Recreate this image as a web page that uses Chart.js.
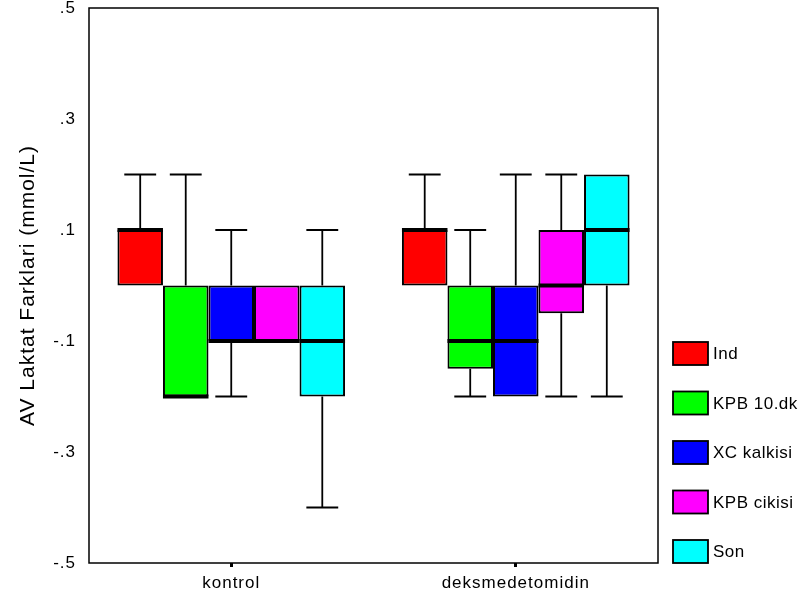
<!DOCTYPE html>
<html>
<head>
<meta charset="utf-8">
<script src="https://cdn.jsdelivr.net/npm/chart.js@4"></script>
<style>
  html, body { margin: 0; padding: 0; background: #fff; }
  #wrap { width: 807px; height: 604px; }
</style>
</head>
<body>
<div id="wrap"><canvas id="boxChart" width="807" height="604"></canvas></div>
<script>
// Groups on the x axis
const groups = ['kontrol', 'deksmedetomidin'];

// Series (time points) and their colours
const seriesNames = ['Ind', 'KPB 10.dk', 'XC kalkisi', 'KPB cikisi', 'Son'];
const seriesColors = ['#ff0000', '#00ff00', '#0000ff', '#ff00ff', '#00ffff'];

// Box plot values per series: [kontrol, deksmedetomidin]
const whiskerLow = [[0, 0], [-0.2, -0.2], [-0.2, -0.2], [-0.1, -0.2], [-0.4, -0.2]];
const quartile1 = [[0, 0], [-0.2, -0.15], [-0.1, -0.2], [-0.1, -0.05], [-0.2, 0]];
const medians = [[0.1, 0.1], [-0.2, -0.1], [-0.1, -0.1], [-0.1, 0], [-0.1, 0.1]];
const quartile3 = [[0.1, 0.1], [0, 0], [0, 0], [0, 0.1], [0, 0.2]];
const whiskerHigh = [[0.2, 0.2], [0.2, 0.1], [0.1, 0.2], [0, 0.2], [0.1, 0.2]];

// Y axis range and step
const yMin = -0.5;
const yMax = 0.5;
const yStep = 0.2;

const FONT = 'Arial, "Liberation Sans", sans-serif';

// SPSS style text is a bit spaced out
function setSpacing(chart) {
    chart.ctx.letterSpacing = '1px';
}

// Whiskers behind the boxes, medians on top
const boxExtras = {
    id: 'boxExtras',
    beforeUpdate: setSpacing,
    beforeDraw: setSpacing,
    beforeDatasetsDraw(chart) {
        const ctx = chart.ctx;
        const y = chart.scales.y;
        ctx.save();
        ctx.strokeStyle = '#000';
        ctx.lineWidth = 1.8;
        chart.data.datasets.forEach((ds, si) => {
            const meta = chart.getDatasetMeta(si);
            meta.data.forEach((bar, gi) => {
                const cap = bar.width * 0.35;
                const parts = [
                    [quartile3[si][gi], whiskerHigh[si][gi]],
                    [quartile1[si][gi], whiskerLow[si][gi]]
                ];
                parts.forEach(([edge, end]) => {
                    if (edge === end) return;
                    const y0 = y.getPixelForValue(edge);
                    const y1 = y.getPixelForValue(end);
                    ctx.beginPath();
                    ctx.moveTo(bar.x, y0);
                    ctx.lineTo(bar.x, y1);
                    ctx.moveTo(bar.x - cap, y1);
                    ctx.lineTo(bar.x + cap, y1);
                    ctx.stroke();
                });
            });
        });
        ctx.restore();
    },
    afterDatasetsDraw(chart) {
        const ctx = chart.ctx;
        const y = chart.scales.y;
        ctx.save();
        ctx.fillStyle = '#000';
        chart.data.datasets.forEach((ds, si) => {
            const meta = chart.getDatasetMeta(si);
            meta.data.forEach((bar, gi) => {
                const my = y.getPixelForValue(medians[si][gi]);
                ctx.fillRect(bar.x - bar.width / 2, my - 2, bar.width, 4);
            });
        });
        // frame around the plot
        const a = chart.chartArea;
        ctx.strokeStyle = '#000';
        ctx.lineWidth = 1.5;
        ctx.strokeRect(a.left, a.top, a.right - a.left, a.bottom - a.top);
        ctx.restore();
    },
    afterDraw(chart) {
        // legend at the lower right, stacked upwards from the plot bottom
        const ctx = chart.ctx;
        const a = chart.chartArea;
        const n = chart.data.datasets.length;
        ctx.save();
        ctx.font = '17px ' + FONT;
        ctx.letterSpacing = '0.5px';
        ctx.textBaseline = 'middle';
        ctx.textAlign = 'left';
        chart.data.datasets.forEach((ds, i) => {
            const cy = a.bottom - 11.5 - (n - 1 - i) * 49.5;
            const bx = a.right + 15;
            ctx.fillStyle = ds.backgroundColor;
            ctx.fillRect(bx, cy - 11.5, 35, 23);
            ctx.strokeStyle = '#000';
            ctx.lineWidth = 1.8;
            ctx.strokeRect(bx, cy - 11.5, 35, 23);
            ctx.fillStyle = '#000';
            ctx.fillText(ds.label, bx + 40, cy + 1);
        });
        ctx.restore();
    }
};

const datasets = seriesNames.map((name, si) => ({
    label: name,
    data: groups.map((g, gi) => [quartile1[si][gi], quartile3[si][gi]]),
    backgroundColor: seriesColors[si],
    borderColor: '#000',
    borderWidth: 2,
    borderSkipped: false,
    categoryPercentage: 0.8,
    barPercentage: 1.0
}));

new Chart(document.getElementById('boxChart'), {
    type: 'bar',
    data: { labels: groups, datasets: datasets },
    options: {
        responsive: false,
        animation: false,
        layout: { padding: { top: 8, right: 149, left: 0, bottom: 0 } },
        plugins: {
            legend: { display: false },
            tooltip: { enabled: false }
        },
        scales: {
            x: {
                grid: {
                    display: true,
                    drawOnChartArea: false,
                    offset: false,
                    tickLength: 4,
                    tickWidth: 3,
                    tickColor: '#000'
                },
                border: { display: false },
                ticks: { color: '#000', font: { family: FONT, size: 17 }, padding: 6 },
                afterFit(scale) { scale.height = 41; }
            },
            y: {
                min: yMin,
                max: yMax,
                grid: { display: false, drawTicks: false },
                border: { display: false },
                ticks: {
                    stepSize: yStep,
                    color: '#000',
                    font: { family: FONT, size: 17 },
                    padding: 13,
                    callback: v => {
                        const s = (Math.round(v * 10) / 10).toFixed(1);
                        return s.replace('0.', '.');
                    }
                },
                title: {
                    display: true,
                    text: 'AV Laktat Farklari (mmol/L)',
                    color: '#000',
                    font: { family: FONT, size: 21 },
                    padding: { top: 16, bottom: 0 }
                },
                afterFit(scale) {
                    scale.width = 89;
                    scale.paddingTop = 0;
                    scale.paddingBottom = 0;
                }
            }
        }
    },
    plugins: [boxExtras]
});
</script>
</body>
</html>
